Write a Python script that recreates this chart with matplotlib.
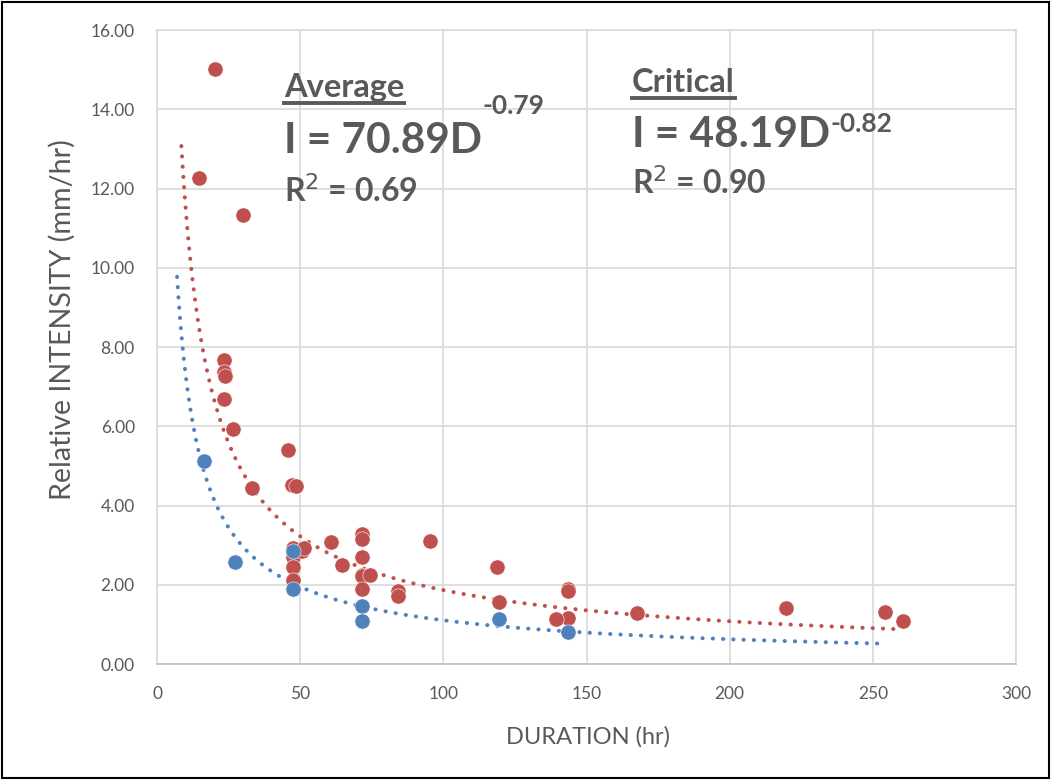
import numpy as np
import matplotlib
matplotlib.use("Agg")
import matplotlib.pyplot as plt
from matplotlib.patches import Rectangle
from matplotlib.lines import Line2D

plt.rcParams['font.family'] = ['Lato', 'DejaVu Sans']
narrow = ['Liberation Sans Narrow', 'Lato', 'DejaVu Sans']

# Average storms (red)
avg_duration = [20.3, 14.7, 30.1, 23.3, 23.4, 23.6, 23.3, 26.6, 45.7, 33.3, 47.3, 48.5,
                47.6, 47.6, 47.6, 47.6, 47.6, 50.7, 51.2, 60.7, 64.5,
                71.5, 71.5, 71.5, 71.5, 71.5, 71.5, 74.5, 84.3, 84.3, 95.5,
                118.9, 119.3, 143.5, 143.5, 143.5, 139.4, 167.6, 219.6, 254.2, 260.4]
avg_intensity = [15.02, 12.27, 11.34, 7.67, 7.38, 7.27, 6.70, 5.93, 5.40, 4.44, 4.52, 4.48,
                 2.93, 2.83, 2.70, 2.45, 2.12, 2.85, 2.92, 3.07, 2.50,
                 3.27, 3.16, 2.71, 2.25, 2.21, 1.89, 2.25, 1.85, 1.72, 3.11,
                 2.46, 1.57, 1.90, 1.84, 1.17, 1.14, 1.28, 1.41, 1.32, 1.09]

# Critical storms (blue)
crit_duration = [16.5, 27.2, 47.6, 47.6, 71.5, 71.5, 119.3, 143.5]
crit_intensity = [5.12, 2.58, 2.86, 1.90, 1.46, 1.09, 1.13, 0.80]

# power-law trendlines shown on the chart: I = a * D^b
avg_coef, avg_exp, avg_r2 = 70.89, -0.79, 0.69
crit_coef, crit_exp, crit_r2 = 48.19, -0.82, 0.90
avg_fit_range = (8.5, 258.0)
crit_fit_range = (7.0, 253.5)

red = '#C0504D'
blue = '#4F81BD'
text_grey = '#595959'
grid_grey = '#D9D9D9'

fig = plt.figure(figsize=(10.51, 7.80), dpi=100)
ax = fig.add_axes([0.1494, 0.1487, 0.8173, 0.8128])

# trendlines
for coef, ex, rng, col in [(avg_coef, avg_exp, avg_fit_range, red),
                           (crit_coef, crit_exp, crit_fit_range, blue)]:
    xs = np.linspace(rng[0], rng[1], 400)
    ax.plot(xs, coef * xs ** ex, color=col, lw=2.9, linestyle=(0, (0.05, 2.5)),
            dash_capstyle='round', zorder=2)

ax.scatter(avg_duration, avg_intensity, s=120, color=red, edgecolors='white',
           linewidths=0.4, zorder=3)
ax.scatter(crit_duration, crit_intensity, s=120, color=blue, edgecolors='white',
           linewidths=0.4, zorder=4)

ax.set_xlim(0, 300)
ax.set_ylim(0, 16)
ax.set_xticks(np.arange(0, 301, 50))
ax.set_yticks(np.arange(0, 16.1, 2))
ax.set_yticklabels([f'{v:.2f}' for v in np.arange(0, 16.1, 2)])
ax.grid(True, color=grid_grey, lw=1.2)
ax.set_axisbelow(True)
for sp in ax.spines.values():
    sp.set_color(grid_grey)
    sp.set_linewidth(1.2)
ax.spines['bottom'].set_color('#BFBFBF')
ax.tick_params(length=0, pad=16, labelsize=12.5, colors=text_grey)

fig.canvas.draw()
renderer = fig.canvas.get_renderer()


def px(x, y):
    # pixel position (from top-left) -> figure fraction
    return x / 1051, 1 - y / 780


# axis titles, sized to the length they have in the original
xl = fig.text(*px(588, 737), 'DURATION (hr)', fontsize=15, color=text_grey,
              ha='center', va='center', family=narrow)
xl.set_fontsize(15 * 164 / xl.get_window_extent(renderer).width)
yl = fig.text(*px(62, 320), 'Relative INTENSITY (mm/hr)', fontsize=15, color=text_grey,
              ha='center', va='center', rotation=90, family=narrow)
yl.set_fontsize(15 * 361 / yl.get_window_extent(renderer).height)


def equation_block(x0, title, coef, ex, r2, title_base, eq_base, exp_base, r2_base):
    t = fig.text(*px(x0, title_base), title, fontsize=23.5, fontweight='bold',
                 color=text_grey, va='baseline', ha='left')
    bb = t.get_window_extent(renderer)
    uy = 1 - (title_base + 6) / 780
    fig.add_artist(Line2D([bb.x0 / 1051, bb.x1 / 1051], [uy, uy],
                          color=text_grey, lw=2.8))
    e = fig.text(*px(x0, eq_base), f'I = {coef:.2f}D', fontsize=30.5, fontweight='bold',
                 color=text_grey, va='baseline', ha='left')
    eb = e.get_window_extent(renderer)
    fig.text(eb.x1 / 1051, 1 - exp_base / 780, f'{ex:.2f}', fontsize=19,
             fontweight='bold', color=text_grey, va='baseline', ha='left')
    fig.text(*px(x0, r2_base), f'R$^{{2}}$ = {r2:.2f}', fontsize=23, fontweight='bold',
             color=text_grey, va='baseline', ha='left')


equation_block(284, 'Average', avg_coef, avg_exp, avg_r2, 97, 153, 114, 202)
equation_block(632, 'Critical', crit_coef, crit_exp, crit_r2, 92, 147, 132, 194)

fig.add_artist(Rectangle((0.002, 0.003), 0.996, 0.994, transform=fig.transFigure,
                         fill=False, edgecolor='black', lw=1.5))

fig.savefig('out.png', dpi=100)
